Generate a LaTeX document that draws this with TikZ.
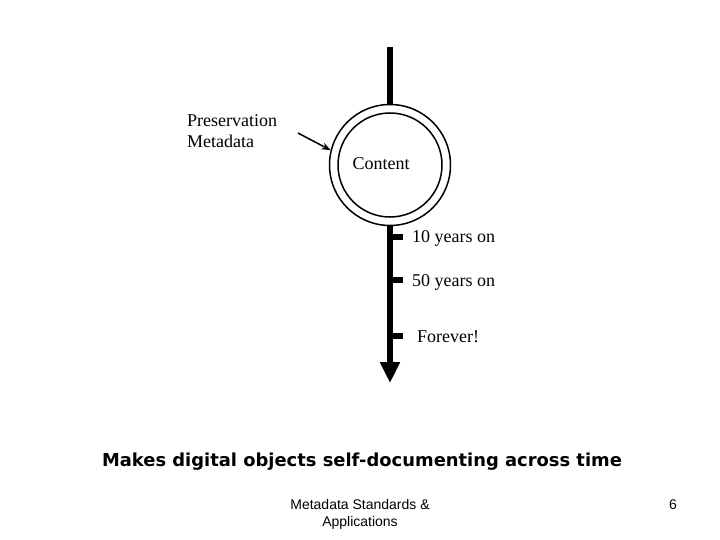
\documentclass[tikz,border=0pt]{standalone}
\usepackage{fontspec}
\setmainfont{Liberation Serif}
\newfontfamily\titlefont{DejaVu Sans}
\newfontfamily\footfont{Liberation Sans}
\usetikzlibrary{arrows.meta}

\tikzset{
  axis/.style={line width=6pt},
  ring/.style={circle, draw, line width=1.5pt, inner sep=0pt},
  lbl/.style={anchor=base west, inner sep=0pt, font=\fontsize{18}{22}\selectfont},
}

\begin{document}
\begin{tikzpicture}[x=1pt,y=-1pt]
	\useasboundingbox (0,0) rectangle (720,540);

	% the rings round the content
	\node[ring, minimum size=121pt] (outer) at (390,165) {};
	\node[ring, minimum size=104pt] (inner) at (390,165) {};
	\node[lbl, anchor=base] (content) at (381,170) {Content};

	% the time axis
	\coordinate (axtop) at (390,47);
	\coordinate (axend) at (390,383);
	\draw[axis] (axtop) -- (outer.north);
	\draw[axis, -{Triangle[width=19pt,length=21pt]}] (outer.south) -- (axend);

	% ticks and their labels
	\foreach \ty/\lx/\txt in {243/412/10 years on, 286/412/50 years on, 342/417/Forever!}{
		\draw[axis] (390,\ty-6) -- ++(13,0);
		\node[lbl] (t\ty) at (\lx,\ty) {\txt};
	}

	% preservation metadata
	\node[lbl] (pm1) at (187,127) {Preservation};
	\node[lbl] (pm2) at (187,148) {Metadata};
	\coordinate (pmtail) at (298,133);
	\draw[line width=1.5pt, -{Stealth[length=9pt,width=7pt]}] (pmtail) -- (outer.166);

	% caption and footer
	\node[anchor=base, inner sep=0pt, font=\titlefont\bfseries\fontsize{17.9}{21}\selectfont] (title) at (362,466) {Makes digital objects self-documenting across time};
	\node[anchor=base, inner sep=0pt, font=\footfont\fontsize{14}{17}\selectfont] (foot1) at (360,509) {Metadata Standards \&};
	\node[anchor=base, inner sep=0pt, font=\footfont\fontsize{14}{17}\selectfont] (foot2) at (360,526) {Applications};
	\node[anchor=base, inner sep=0pt, font=\footfont\fontsize{14}{17}\selectfont] (page) at (673,509) {6};
\end{tikzpicture}
\end{document}
